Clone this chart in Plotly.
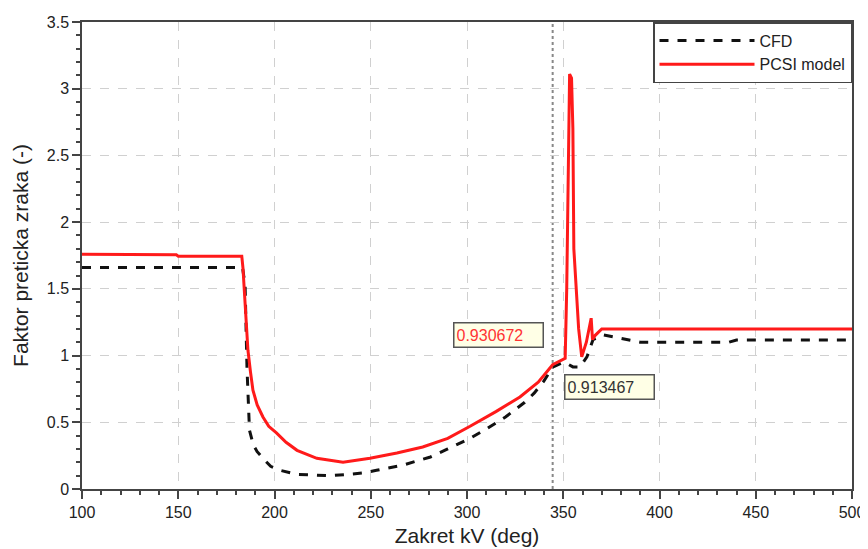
import plotly.graph_objects as go

# --- data ---
cfd_x = [100, 183.4, 184, 184.7, 185.7, 187, 189, 191, 194, 198, 203, 211.7, 220, 229,
         239, 246, 253, 260, 267, 274, 281, 290, 301.6, 310, 320, 330, 335, 340, 344.5,
         350, 352, 355, 358.7, 362.3, 365.5, 370.6, 379.5, 390, 400, 436, 440, 500]
cfd_y = [1.66, 1.66, 1.6, 1.54, 0.91, 0.44, 0.33, 0.28, 0.23, 0.17, 0.14, 0.11, 0.105, 0.10,
         0.11, 0.12, 0.14, 0.16, 0.18, 0.21, 0.24, 0.30, 0.38, 0.45, 0.54, 0.65, 0.72, 0.81, 0.913,
         0.95, 0.94, 0.915, 0.915, 0.99, 1.12, 1.155, 1.13, 1.10, 1.10, 1.10, 1.117, 1.117]

pcsi_x = [100, 149, 150, 183, 183.6, 184.5, 185.5, 186.2, 187.5, 188.8, 191, 194, 197, 201,
          206, 211.7, 222, 235.6, 249.6, 263.6, 277, 290, 301.6, 315, 327.5, 337, 344.5,
          351, 351.8, 352.6, 353.3, 354.3, 355, 355.5, 356.9, 358, 359.6, 362, 364.5,
          365.2, 366.5, 370, 500]
pcsi_y = [1.76, 1.755, 1.745, 1.745, 1.66, 1.45, 1.2, 1.04, 0.88, 0.74, 0.63, 0.54, 0.47, 0.42,
          0.35, 0.29, 0.23, 0.20, 0.23, 0.27, 0.315, 0.38, 0.47, 0.58, 0.69, 0.80, 0.931,
          0.98, 1.5, 2.56, 3.11, 3.08, 2.7, 1.8, 1.47, 1.2, 0.99, 1.1, 1.28,
          1.12, 1.15, 1.20, 1.20]

cursor_x = 344.5
label_pcsi = "0.930672"
label_cfd = "0.913467"

x_ticks = [100, 150, 200, 250, 300, 350, 400, 450, 500]
y_ticks = [0, 0.5, 1, 1.5, 2, 2.5, 3, 3.5]
y_ticklabels = ["0", "0.5", "1", "1.5", "2", "2.5", "3", "3.5"]

font_family = "Liberation Sans, Arial, sans-serif"

fig = go.Figure()
fig.add_trace(go.Scatter(x=cfd_x, y=cfd_y, mode="lines", name="CFD",
                         line=dict(color="#111111", width=3, dash="dash")))
fig.add_trace(go.Scatter(x=pcsi_x, y=pcsi_y, mode="lines", name="PCSI model",
                         line=dict(color="#ff1a1a", width=3)))

fig.add_shape(type="line", x0=cursor_x, x1=cursor_x, y0=0, y1=3.5, xref="x", yref="y",
              line=dict(color="#888888", width=2, dash="dot"), layer="below")

fig.add_annotation(x=316.6, y=1.154, text=label_pcsi, showarrow=False,
                   font=dict(family=font_family, size=16, color="#ff3333"),
                   width=84, height=19, align="left",
                   bgcolor="#ffffe6", bordercolor="#555555", borderwidth=1.5, borderpad=2)
fig.add_annotation(x=373.8, y=0.765, text=label_cfd, showarrow=False,
                   font=dict(family=font_family, size=16, color="#333333"),
                   width=84, height=19, align="left",
                   bgcolor="#ffffe6", bordercolor="#555555", borderwidth=1.5, borderpad=2)

axis_common = dict(showline=True, linecolor="#444444", linewidth=1.5, mirror=True,
                   ticks="outside", ticklen=8, tickwidth=1.5, tickcolor="#444444",
                   showgrid=True, gridcolor="#d0d0d0", griddash="dash", gridwidth=1,
                   zeroline=False, automargin=False,
                   tickfont=dict(family=font_family, size=16, color="#222222"))

fig.update_xaxes(range=[100, 500], tickvals=x_ticks,
                 minor=dict(dtick=10, ticks="outside", ticklen=4, tickcolor="#444444", showgrid=False),
                 title=dict(text="Zakret kV (deg)", font=dict(family=font_family, size=21, color="#222222"),
                            standoff=8),
                 **axis_common)
fig.update_yaxes(range=[0, 3.5], tickvals=y_ticks, ticktext=y_ticklabels,
                 minor=dict(dtick=0.1, ticks="outside", ticklen=4, tickcolor="#444444", showgrid=False),
                 title=dict(text="Faktor preticka zraka (-)", font=dict(family=font_family, size=21, color="#222222"),
                            standoff=12),
                 **axis_common)

# the page body adds an 8px margin, so the figure is sized and offset to compensate
fig.update_layout(
    width=860, height=541,
    margin=dict(l=74, r=16, t=14, b=60),
    plot_bgcolor="white", paper_bgcolor="white",
    showlegend=True,
    legend=dict(x=1, xanchor="right", y=1, yanchor="top",
                bgcolor="white", bordercolor="#444444", borderwidth=1.5,
                font=dict(family=font_family, size=16, color="#222222"),
                itemwidth=95, tracegroupgap=0),
)

fig.write_html("out.html")
